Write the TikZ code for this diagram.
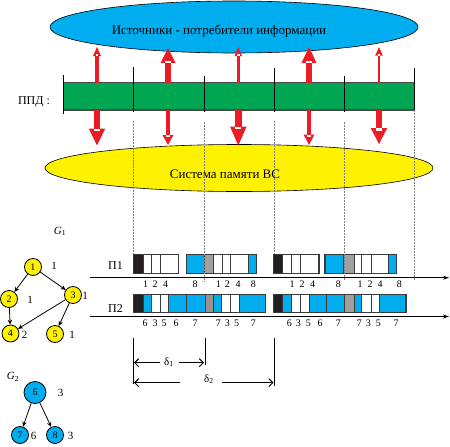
\documentclass[tikz,border=0pt]{standalone}
\usepackage{fontspec}
\setmainfont{Liberation Serif}
\usetikzlibrary{arrows.meta}
\definecolor{cblue}{HTML}{00AEEF}
\definecolor{cyel}{HTML}{FFF200}
\definecolor{cgreen}{HTML}{00A651}
\definecolor{cred}{HTML}{ED1C24}
\definecolor{cblk}{HTML}{231F20}
\definecolor{cgrayA}{HTML}{A0A0A0}
\definecolor{cgrayB}{HTML}{9C918C}
\definecolor{cbox}{HTML}{3A3A3A}
\definecolor{cbar}{HTML}{4A4A4A}
\newcommand\cellrow[3]{\foreach \a/\b/\c in {#3} {\filldraw[fill=\c,draw=cbox,line width=0.7pt] (\a,#1) rectangle (\b,#2);}}
\begin{document}
\begin{tikzpicture}[x=1pt,y=-1pt,
  bigtxt/.style={inner sep=0pt,font=\fontsize{13}{14}\selectfont},
  midtxt/.style={inner sep=0pt,font=\fontsize{12}{13}\selectfont},
  lab/.style={inner sep=0pt,font=\fontsize{10}{11}\selectfont},
  wlab/.style={inner sep=0pt,font=\fontsize{11}{12}\selectfont},
  gnode/.style={circle,draw=black,line width=0.8pt,fill=cyel,minimum size=17pt,inner sep=0pt,font=\fontsize{10}{11}\selectfont},
  bnode/.style={gnode,fill=cblue},
  gedge/.style={-{Stealth[length=5pt,width=4.5pt]},line width=0.8pt},
  dashv/.style={draw=gray,line width=0.5pt,dash pattern=on 2pt off 1pt},
  divl/.style={draw=black,line width=0.7pt},
  axis/.style={-{Stealth[length=6pt,width=4pt,open]},line width=0.8pt},
  dimline/.style={line width=1pt},
  dimarr/.style={{Straight Barb[length=4pt,width=8pt]}-,line width=1pt}
]
\useasboundingbox (0,0) rectangle (450,447);

% top ellipse
\draw[fill=cblue,line width=0.6pt] (234,27) ellipse [x radius=184pt,y radius=26pt];
\node[bigtxt] (srctxt) at (219,31) {Источники - потребители информации};

% yellow ellipse
\draw[fill=cyel,line width=0.6pt] (239,168) ellipse [x radius=194pt,y radius=23.5pt];
\node[bigtxt] (memtxt) at (225,174) {Система памяти ВС};

% bar
\fill[cgreen] (63.3,82.5) rectangle (414.3,110);
\draw[cbar,line width=1.8pt] (63.3,82.5) -- (414.3,82.5) (63.3,110) -- (414.3,110);
\node[midtxt] (ppd) at (34,101.5) {ППД :};

% dividers
\draw[divl] (63.3,75) -- (63.3,114);
\draw[divl] (133.3,67) -- (133.3,112);
\draw[divl] (204,76) -- (204,112);
\draw[divl] (274,67.5) -- (274,112);
\draw[divl] (344,76) -- (344,112);
\draw[divl] (414.3,67.5) -- (414.3,110);

% red arrows
\foreach \x/\tip/\base/\hl/\hw/\sw/\wb in {
  97/47/83/9/4/1.7/-2,
  168/48/83/15/7.5/3.3/-2.5,
  238.3/47/83/9/3.7/1.7/-2,
  309/47/83/16/7.5/3.3/-2.5,
  379/47/83/8.5/3.8/1.2/-2,
  97/145.5/110/-17/8.3/3.3/2.5,
  168/145/110/-10/5.5/2/2,
  238.3/145.5/110/-19/8.3/3.3/2.5,
  309/145/110/-10.5/5.5/2/2,
  379/144/110/-16/8.3/3.3/2.5}{
  \fill[cred] (\x-\sw,\base) rectangle (\x+\sw,\tip+\hl);
  \fill[cred] (\x,\tip) -- (\x+\hw,\tip+\hl) -- (\x-\hw,\tip+\hl) -- cycle;
  \fill[white] (\x-\sw+0.3,\tip+\hl) rectangle (\x+\sw-0.3,\tip+\hl+\wb);
}

% timeline boxes P1
\cellrow{254.3}{273.3}{133.3/143.3/cblk,143.3/151.7/white,151.7/160.7/white,160.7/178.3/white}
\cellrow{254.3}{273.3}{186.7/204/cblue,204/213.3/cgrayA,213.3/222.3/white,222.3/230/white,230/248.3/white,248.3/256.7/cblue}
\cellrow{254.3}{273.3}{273.3/282.7/cblk,282.7/291.7/white,291.7/300.7/white,300.7/319/white}
\cellrow{254.3}{273.3}{325/343.3/cblue,343.3/354/cgrayA,354/361.7/white,361.7/371.7/white,371.7/388.3/white,388.3/396.7/cblue}
\foreach \a/\b in {133.3/178.3,186.7/256.7,273.3/319,325/396.7}
  \draw[cbox,line width=1.2pt] (\a,254.3) rectangle (\b,273.3);

% timeline boxes P2
\cellrow{294.3}{312.7}{133.3/143.3/cblk,143.3/151/cblue,151/160/white,160/168.3/white,168.3/186.7/cblue,186.7/205/cblue,205/213.3/cgrayB,213.3/221.7/cblue,221.7/230/white,230/239/white,239/265.7/cblue}
\cellrow{294.3}{312.7}{273.3/282.7/cblk,282.7/291.7/cblue,291.7/300.7/white,300.7/309.3/white,309.3/326.7/cblue,326.7/344/cblue,344/354/cgrayA,354/361.7/cblue,361.7/371/white,371/379.3/white,379.3/406/cblue}
\foreach \a/\b in {133.3/265.7,273.3/406}
  \draw[cbox,line width=1.2pt] (\a,294.3) rectangle (\b,312.7);

% dashed guide lines
\draw[dashv] (133.3,121) -- (133.3,254.3);
\draw[dashv] (204,122) -- (204,282);
\draw[dashv] (274,121) -- (274,254.3);
\draw[dashv] (344,122) -- (344,281);
\draw[dashv] (414.3,110) -- (414.3,280);

% axes
\coordinate (a1s) at (90,277.7); \coordinate (a1e) at (449,277.7);
\coordinate (a2s) at (90,316.5); \coordinate (a2e) at (449,316.5);
\draw[axis] (a1s) -- (a1e);
\draw[axis] (a2s) -- (a2e);
\node[midtxt] (p1) at (115.5,266) {П1};
\node[midtxt] (p2) at (115.5,309) {П2};

\foreach \xx/\t [count=\i] in {145.5/1,155/2,165.5/4,195/8,218.3/1,227.3/2,238/4,253.3/8,292/1,302/2,312.5/4,338.3/8,360/1,370/2,380/4,399.3/8}
  \node[lab] (la\i) at (\xx,284) {\t};
\foreach \xx/\t [count=\i] in {145/6,155/3,164/5,176/6,195/7,218.3/7,227.3/3,236.7/5,253.3/7,289.3/6,298.3/3,308.3/5,320/6,338.3/7,359.3/7,368.3/3,378.3/5,396/7}
  \node[lab] (lb\i) at (\xx,323.5) {\t};

% delta dimensions
\coordinate (v1t) at (133.3,338); \coordinate (v1b) at (133.3,383.5);
\coordinate (v2t) at (205,338); \coordinate (v2b) at (205,365);
\coordinate (v3t) at (274.3,338); \coordinate (v3b) at (274.3,385.5);
\draw[dimline] (v1t) -- (v1b);
\draw[dimline] (v2t) -- (v2b);
\draw[dimline] (v3t) -- (v3b);
\coordinate (d1a) at (134,362.7); \coordinate (d1b) at (160,362.7);
\coordinate (d1c) at (178.5,362.7); \coordinate (d1d) at (204,362.7);
\coordinate (d2a) at (134,382.7); \coordinate (d2b) at (180,382.7);
\coordinate (d2c) at (221.7,382.7); \coordinate (d2d) at (273.5,382.7);
\draw[dimarr] (d1a) -- (d1b);
\draw[dimarr] (d1d) -- (d1c);
\draw[dimarr] (d2a) -- (d2b);
\draw[dimarr] (d2d) -- (d2c);
\node[wlab] (del1) at (169,362) {δ\textsubscript{1}};
\node[wlab] (del2) at (209,379) {δ\textsubscript{2}};

% graph G1
\node[wlab] (g1lab) at (60,231.5) {\textit{G}\textsubscript{1}};
\node[gnode] (n1) at (33,267) {1};
\node[gnode] (n2) at (9,299) {2};
\node[gnode] (n3) at (73,295) {3};
\node[gnode] (n4) at (10.5,333.5) {4};
\node[gnode] (n5) at (55,334) {5};
\node[wlab] (w1) at (54,266) {1};
\node[wlab] (w2) at (30,300) {1};
\node[wlab] (w3) at (85,296) {1};
\node[wlab] (w4) at (24.5,335) {2};
\node[wlab] (w5) at (72,335) {1};
\draw[gedge] (n1) -- (n2);
\draw[gedge] (n1) -- (n3);
\draw[gedge] (n2) -- (n4);
\draw[gedge] (n3) -- (n4);
\draw[gedge] (n3) -- (n5);

% graph G2
\node[wlab] (g2lab) at (13,377) {\textit{G}\textsubscript{2}};
\node[bnode,minimum size=22pt] (n6) at (35,392.5) {6};
\node[bnode] (n7) at (20,435) {7};
\node[bnode] (n8) at (55,435) {8};
\node[wlab] (w6) at (60.5,393) {3};
\node[wlab] (w7) at (33.5,435.5) {6};
\node[wlab] (w8) at (70.5,435.5) {3};
\draw[gedge] (n6) -- (n7);
\draw[gedge] (n6) -- (n8);
\end{tikzpicture}
\end{document}
